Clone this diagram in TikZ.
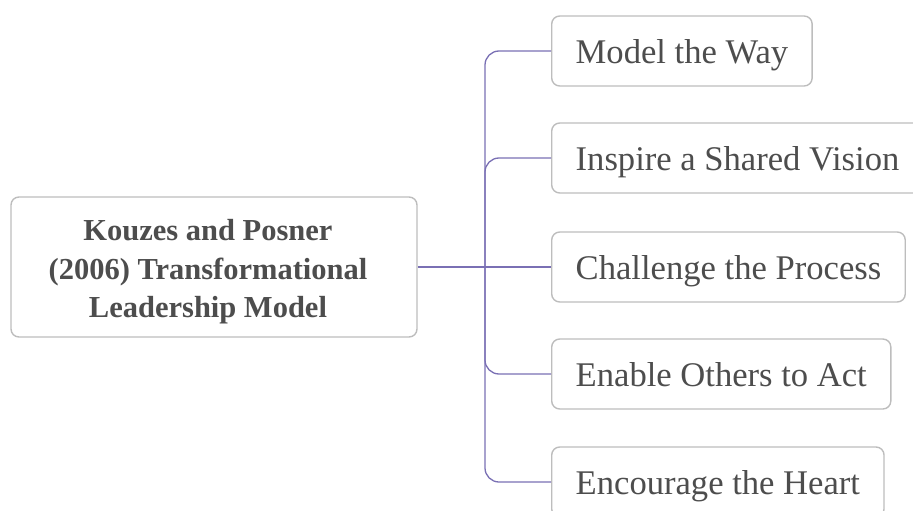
\documentclass[tikz,border=0pt]{standalone}
\usepackage{fontspec}
\setmainfont{Liberation Serif}
\definecolor{boxgray}{HTML}{BDBDBD}
\definecolor{txtgray}{HTML}{4D4D4D}
\definecolor{linkpurple}{HTML}{7A70B4}
\begin{document}
\begin{tikzpicture}[x=1pt,y=-1pt,
  box/.style={draw=boxgray, line width=1.4pt, rounded corners=8pt, fill=white, text=txtgray},
  leaf/.style={box, anchor=west, minimum height=70pt, inner xsep=24pt, inner ysep=0pt,
    text height=25pt, text depth=0pt, font=\fontsize{34.6}{40}\selectfont},
  conn/.style={draw=linkpurple, line width=1.3pt, rounded corners=14pt}]
\useasboundingbox (0,0) rectangle (913,511);
\clip (0,0) rectangle (913,511);
\node[box, minimum width=406pt, minimum height=140pt] (root) at (214,267) {};
\node[align=center, text=txtgray, font=\fontsize{30.5}{38.5}\selectfont\bfseries]
  (rootlabel) at (208,272)
  {Kouzes and Posner\\(2006) Transformational\\Leadership Model};
\node[leaf] (b1) at (551,51) {Model the Way};
\node[leaf] (b2) at (551,158) {Inspire a Shared Vision};
\node[leaf] (b3) at (551,267) {Challenge the Process};
\node[leaf] (b4) at (551,374) {Enable Others to Act};
\node[leaf] (b5) at (551,482) {Encourage the Heart};
\coordinate (j) at (485,267);
\draw[conn] (root.east) -- (b3.west);
\draw[conn] (j) |- (b1.west);
\draw[conn] (j) |- (b2.west);
\draw[conn] (j) |- (b4.west);
\draw[conn] (j) |- (b5.west);
\end{tikzpicture}
\end{document}
